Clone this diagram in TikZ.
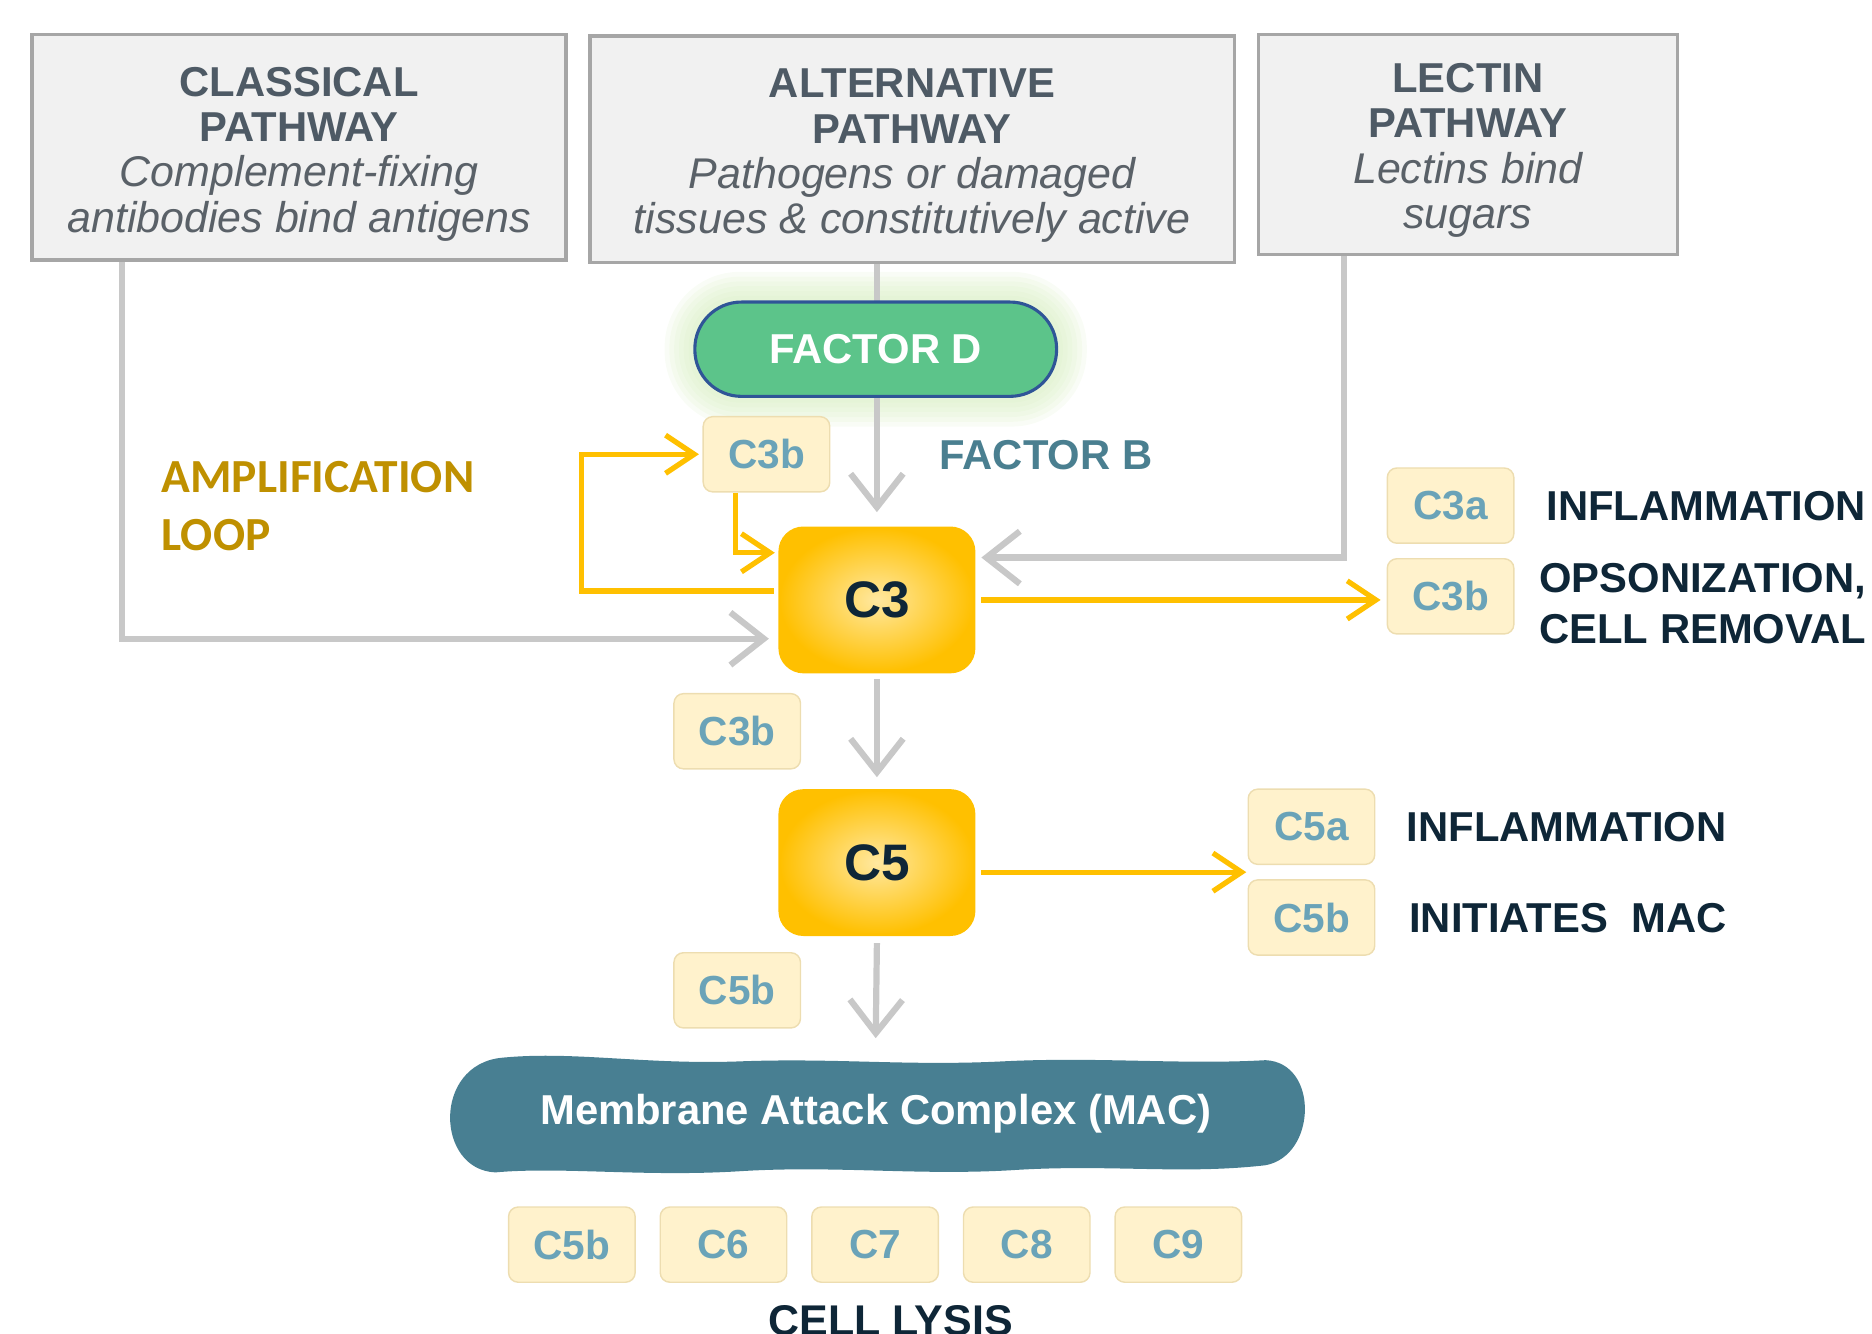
\documentclass[tikz,border=0pt]{standalone}
\usepackage{fontspec}
\setmainfont{Liberation Sans}
\newfontfamily\calibfont{Carlito}
\usetikzlibrary{arrows.meta,calc,backgrounds}
\definecolor{boxfill}{HTML}{F1F1F1}
\definecolor{boxline}{HTML}{A6A6A6}
\definecolor{titlecol}{HTML}{4E5A65}
\definecolor{italcol}{HTML}{5A6168}
\definecolor{conngray}{HTML}{C8C8C8}
\definecolor{gold}{HTML}{FFC000}
\definecolor{pale}{HTML}{FFF2CC}
\definecolor{paleline}{HTML}{EDDDB0}
\definecolor{ctext}{HTML}{6AA3B8}
\definecolor{tealtext}{HTML}{4A7F90}
\definecolor{navy}{HTML}{0E2637}
\definecolor{amber}{HTML}{BF9000}
\definecolor{macfill}{HTML}{487F92}
\definecolor{fdfill}{HTML}{5CC48A}
\definecolor{fdline}{HTML}{2F5597}
\definecolor{glowcol}{HTML}{D4EDBC}
\definecolor{cinner}{HTML}{FFE8A0}
\newcommand\ptitle{\fontsize{17.5}{19}\selectfont\bfseries\color{titlecol}}
\newcommand\psub{\fontsize{18}{19}\selectfont\mdseries\itshape\color{italcol}}
\tikzset{
  pathway/.style={draw=boxline, line width=1.5pt, fill=boxfill, inner sep=0pt},
  ptext/.style={inner sep=0pt, align=center, font=\fontsize{17.5}{19}\selectfont},
  cbox/.style={draw=paleline, line width=0.6pt, fill=pale, rounded corners=4pt,
    minimum width=53pt, minimum height=31.5pt, inner sep=0pt, text=ctext,
    font=\fontsize{17}{20}\selectfont\bfseries},
  bigbox/.style={draw=gold, line width=1pt, inner color=cinner, outer color=gold,
    rounded corners=10pt, minimum width=81.5pt, minimum height=60.5pt, inner sep=0pt,
    text=navy, font=\fontsize{21.5}{24}\selectfont\bfseries},
  lbl/.style={inner sep=0pt, text=navy, font=\fontsize{17.5}{21.5}\selectfont\bfseries, align=left},
  grayarr/.style={draw=conngray, line width=2.6pt, line cap=butt,
    -{Straight Barb[length=14pt,width=22pt]}},
  yarr/.style={draw=gold, line width=2.2pt, line cap=butt,
    -{Straight Barb[length=12pt,width=16pt]}}
}
\begin{document}
\begin{tikzpicture}[x=0.5pt,y=-0.5pt]
\useasboundingbox (0,0) rectangle (1568,1117);
% pathway boxes
\node[pathway, minimum width=223.5pt, minimum height=94.5pt] (classical) at (250.5,123.5) {};
\node[ptext] (classicaltxt) at ($(classical.center)+(0,5.5)$)
  {{\ptitle CLASSICAL}\\{\ptitle PATHWAY}\\{\psub Complement-fixing}\\{\psub antibodies bind antigens}};
\node[pathway, minimum width=270pt, minimum height=95pt] (alt) at (764,125) {};
\node[ptext] (alttxt) at ($(alt.center)+(0,5.5)$)
  {{\ptitle ALTERNATIVE}\\{\ptitle PATHWAY}\\{\psub Pathogens or damaged}\\{\psub tissues \& constitutively active}};
\node[pathway, minimum width=175.5pt, minimum height=92pt] (lectin) at (1229.5,121) {};
\node[ptext] (lectintxt) at ($(lectin.center)+(0,5)$)
  {{\ptitle LECTIN}\\{\ptitle PATHWAY}\\{\psub Lectins bind}\\{\psub sugars}};
% factor D
\node[fill=fdfill, draw=fdline, line width=1.3pt, rounded corners=19.5pt,
  minimum width=151.5pt, minimum height=39.5pt, inner sep=0pt, text=white,
  font=\fontsize{17.5}{20}\selectfont\bfseries] (fd) at (733.5,292.5) {FACTOR D};
% small boxes
\node[cbox] (c3bt) at (642,380.5) {C3b};
\node[cbox] (c3a) at (1215,423.5) {C3a};
\node[cbox] (c3br) at (1215,499.5) {C3b};
\node[cbox] (c3bm) at (617.5,612.5) {C3b};
\node[cbox] (c5a) at (1098.5,692.5) {C5a};
\node[cbox] (c5b) at (1098.5,768.5) {C5b};
\node[cbox] (c5bm) at (617.5,829.5) {C5b};
\node[cbox] (m1) at (479,1042.5) {C5b};
\node[cbox] (m2) at (606,1042.5) {C6};
\node[cbox] (m3) at (733,1042.5) {C7};
\node[cbox] (m4) at (860,1042.5) {C8};
\node[cbox] (m5) at (987,1042.5) {C9};
% big boxes
\node[bigbox] (C3) at (734.5,502.5) {C3};
\node[bigbox] (C5) at (734.5,722.5) {C5};
% labels
\node[inner sep=0pt, text=tealtext, font=\fontsize{17.5}{20}\selectfont\bfseries] (fb) at (876,381) {FACTOR B};
\node[inner sep=0pt, anchor=west, text=amber, align=left,
  font=\calibfont\fontsize{19.9}{24}\selectfont\bfseries] (amp) at (135,424) {AMPLIFICATION\\LOOP};
\node[lbl, anchor=west] (inf1) at (1295,424) {INFLAMMATION};
\node[lbl, anchor=west] (ops) at (1289,505.5) {OPSONIZATION,\\CELL REMOVAL};
\node[lbl, anchor=west] (inf2) at (1178,693) {INFLAMMATION};
\node[lbl, anchor=west] (imac) at (1180,769) {INITIATES\ \ MAC};
\node[lbl, anchor=center, font=\fontsize{18}{20}\selectfont\bfseries] (lysis) at (746,1106) {CELL LYSIS};
% MAC blob
\fill[macfill] (420,886) .. controls (480,880) and (540,892) .. (620,889)
  .. controls (700,886) and (760,893) .. (840,889)
  .. controls (920,885) and (990,892) .. (1060,888)
  .. controls (1105,890) and (1103,968) .. (1060,976)
  .. controls (990,984) and (930,975) .. (850,980)
  .. controls (770,985) and (700,976) .. (620,981)
  .. controls (540,986) and (470,977) .. (415,982)
  .. controls (365,980) and (362,892) .. (420,886) -- cycle;
\node[minimum width=360pt, minimum height=50pt, inner sep=0pt, text=white,
  font=\fontsize{17.5}{20}\selectfont\bfseries] (mac) at (733.5,933) {Membrane Attack Complex (MAC)};
% coordinates
\coordinate (clsx) at (102,0);
\coordinate (lecx) at (1126,0);
\coordinate (loopx) at (487,0);
\coordinate (c3bx) at (616,0);
\coordinate (c5out) at ($(C5.east)+(5,8)$);
\coordinate (c3out) at ($(C3.east)+(5,0)$);
\begin{scope}[on background layer]
  \foreach \i in {6,...,1} {
    \pgfmathsetmacro\rr{19.5+2*\i}
    \fill[glowcol, opacity=0.14, rounded corners=\rr pt]
      ($(fd.south west)+(-4*\i,4*\i)$) rectangle ($(fd.north east)+(4*\i,-4*\i)$);
  }
  \draw[grayarr] (classical.south -| clsx) |- ($(C3.west)+(-8,32.5)$);
  \draw[grayarr] (alt.south -| C3.north) -- ($(C3.north)+(0,-12)$);
  \draw[grayarr] (lectin.south -| lecx) |- ($(C3.east)+(5,-35.5)$);
  \draw[yarr] ($(C3.west)+(-4,-7.5)$) -| (loopx |- c3bt.west) -- ($(c3bt.west)+(-3,0)$);
  \draw[yarr] (c3bt.south -| c3bx) |- ($(C3.west)+(-3,-39.5)$);
  \draw[yarr] (c3out) -- ($(c3out -| c3br.west)+(-5,0)$);
  \draw[grayarr] ($(C3.south)+(0,5)$) -- ($(C5.north)+(0,-10)$);
  \draw[yarr] (c5out) -- ($(c5out -| c5a.west)+(-1,0)$);
  \draw[grayarr] ($(C5.south)+(0,6)$) -- ($(mac.north)+(0,-13)$);
\end{scope}
\end{tikzpicture}
\end{document}
